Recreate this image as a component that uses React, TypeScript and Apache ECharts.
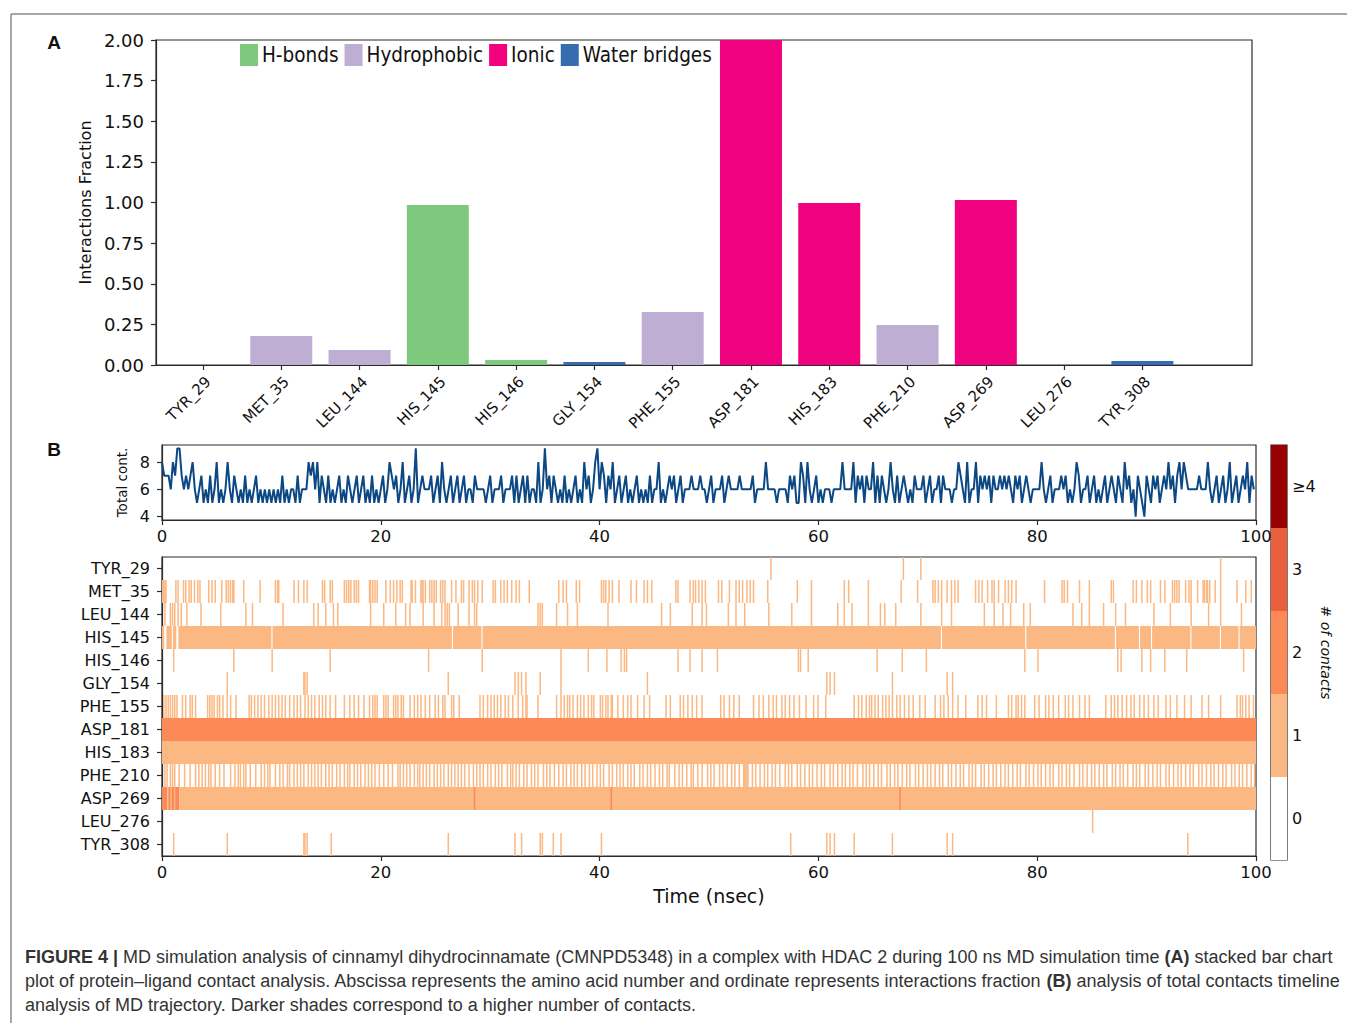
import React, { useEffect, useRef } from 'react';
import * as echarts from 'echarts';

// ---------- Panel A: interaction fractions ----------
const residues = ['TYR_29', 'MET_35', 'LEU_144', 'HIS_145', 'HIS_146', 'GLY_154', 'PHE_155', 'ASP_181', 'HIS_183', 'PHE_210', 'ASP_269', 'LEU_276', 'TYR_308'];
const hBonds = [0, 0, 0, 0.985, 0.031, 0, 0, 0, 0, 0, 0, 0, 0];
const hydrophobic = [0, 0.178, 0.092, 0, 0, 0, 0.326, 0, 0, 0.246, 0, 0, 0];
const ionic = [0, 0, 0, 0, 0, 0, 0, 2.0, 0.997, 0, 1.015, 0, 0];
const waterBridges = [0, 0, 0, 0, 0, 0.018, 0, 0, 0, 0, 0, 0, 0.025];
const interactionTypes = ['H-bonds', 'Hydrophobic', 'Ionic', 'Water bridges'];
const interactionColors = ['#7fc97f', '#beaed4', '#f0027f', '#386cb0'];

// ---------- Panel B top: total contacts timeline (one value every 0.2 ns) ----------
const contactTimeStep = 0.2;
const totalContacts = [
  8, 7, 7, 7, 6, 8, 7, 9, 9, 7, 6, 7, 6, 7, 8, 6, 5, 6, 7, 5, 6, 5, 7, 5, 6, 8, 5, 6, 5, 6, 8, 6, 5, 7, 6, 5, 6, 5, 7, 5, 6, 5, 6, 7, 5, 6, 5, 6, 5, 6,
  5, 6, 5, 6, 5, 7, 5, 6, 5, 6, 6, 5, 7, 5, 6, 6, 6, 8, 7, 8, 6, 8, 5, 7, 6, 5, 7, 5, 6, 5, 6, 7, 5, 6, 5, 7, 6, 5, 6, 7, 5, 6, 7, 5, 6, 5, 7, 5, 6, 5,
  6, 7, 5, 6, 8, 7, 6, 7, 5, 6, 8, 5, 6, 7, 5, 6, 9, 5, 6, 7, 6, 6, 6, 7, 5, 6, 7, 5, 8, 6, 5, 6, 7, 5, 6, 7, 5, 6, 7, 5, 6, 6, 5, 7, 6, 6, 6, 6, 5, 6,
  7, 5, 6, 6, 6, 7, 5, 6, 6, 6, 7, 5, 7, 5, 6, 7, 5, 7, 5, 6, 6, 5, 8, 5, 6, 9, 6, 7, 5, 7, 6, 5, 6, 5, 7, 5, 6, 5, 6, 7, 5, 6, 5, 8, 6, 7, 5, 6, 8, 9,
  6, 8, 7, 5, 7, 6, 8, 5, 6, 7, 5, 6, 7, 5, 6, 5, 6, 7, 5, 6, 5, 6, 5, 7, 5, 6, 6, 8, 5, 6, 5, 6, 7, 6, 7, 5, 6, 7, 5, 6, 6, 6, 7, 6, 6, 6, 7, 6, 6, 5,
  6, 7, 5, 6, 6, 6, 7, 5, 6, 7, 6, 6, 6, 6, 7, 6, 6, 6, 6, 6, 7, 5, 6, 6, 6, 6, 8, 6, 6, 6, 6, 5, 6, 6, 6, 6, 5, 7, 6, 7, 5, 5, 8, 7, 5, 8, 6, 5, 6, 7,
  5, 6, 5, 6, 6, 6, 5, 6, 6, 6, 6, 8, 6, 6, 6, 6, 8, 5, 7, 6, 7, 5, 7, 6, 6, 8, 5, 7, 5, 7, 6, 5, 6, 8, 6, 5, 7, 5, 6, 7, 6, 5, 6, 5, 7, 6, 6, 6, 7, 5,
  6, 7, 5, 6, 6, 7, 5, 7, 6, 6, 6, 5, 6, 6, 8, 7, 6, 5, 8, 5, 6, 6, 8, 5, 7, 6, 7, 6, 7, 5, 7, 6, 6, 7, 6, 7, 6, 7, 6, 5, 7, 6, 7, 5, 6, 7, 6, 5, 6, 6,
  6, 6, 8, 6, 5, 6, 7, 5, 6, 6, 6, 7, 6, 7, 5, 6, 5, 6, 8, 7, 5, 6, 6, 7, 5, 6, 7, 5, 6, 5, 6, 7, 5, 6, 7, 6, 5, 7, 6, 5, 8, 6, 7, 5, 6, 4, 7, 6, 5, 4,
  7, 6, 5, 7, 6, 7, 5, 6, 7, 6, 8, 6, 7, 5, 7, 8, 6, 8, 7, 6, 6, 6, 6, 6, 7, 6, 6, 6, 8, 6, 5, 6, 7, 5, 6, 7, 5, 6, 8, 5, 6, 7, 5, 6, 7, 6, 8, 5, 7, 6,
];
const timelineYTicks = [4, 6, 8];

// ---------- Panel B bottom: contacts per residue over time (ns) ----------
const contactColors = ['#ffffff', '#fbb882', '#fc8a56', '#e8603e', '#990000'];
const colorbarLevels = [0, 1, 2, 3, 4];
const colorbarLabels = ['0', '1', '2', '3', '≥4'];
const frameStep = 0.1;

const tyr29Times = [55.6, 67.7, 69.3, 96.7];
const met35Times = [0.0, 0.1, 0.2, 0.3, 1.2, 1.4, 1.9, 2.1, 2.4, 2.6, 2.9, 3.2, 3.4, 4.2, 4.5, 4.8, 5.4, 5.8, 6.0, 6.2, 6.4, 6.5, 7.4, 8.9, 10.3, 10.5, 10.6, 12.0, 12.4, 12.9, 13.2, 14.6, 14.8, 15.3, 15.5, 16.6, 16.8, 17.0, 17.2, 17.5, 17.7, 17.9, 18.9, 19.0, 19.2, 19.4, 19.6, 20.4, 20.8, 21.1, 21.4, 21.7, 21.9, 22.7, 22.8, 23.1, 23.6, 23.7, 23.8, 24.0, 24.4, 24.6, 24.8, 25.0, 25.4, 25.6, 25.8, 26.4, 26.8, 27.3, 27.5, 28.0, 28.3, 28.5, 28.8, 29.2, 30.2, 30.4, 30.9, 31.2, 31.5, 31.9, 32.3, 32.6, 33.5, 36.2, 36.6, 36.9, 37.8, 38.1, 40.1, 40.3, 40.5, 40.8, 41.1, 41.7, 42.8, 43.3, 44.0, 44.3, 44.7, 46.9, 47.1, 48.2, 48.5, 48.7, 49.0, 49.3, 49.6, 50.8, 51.1, 51.8, 52.4, 52.7, 53.0, 53.4, 53.7, 54.0, 55.3, 58.0, 59.3, 62.3, 62.7, 64.5, 67.5, 69.0, 70.4, 70.6, 70.9, 71.2, 71.7, 72.1, 72.4, 72.7, 74.3, 74.6, 74.9, 75.4, 75.8, 76.0, 76.4, 77.0, 77.3, 77.6, 78.0, 80.6, 82.2, 82.4, 82.7, 83.8, 84.7, 86.7, 86.9, 88.7, 89.0, 89.5, 90.0, 90.3, 91.2, 91.6, 92.3, 92.5, 92.7, 92.9, 93.5, 93.8, 94.0, 94.6, 95.1, 95.2, 95.4, 95.5, 95.7, 96.2, 96.7, 98.2, 99.0, 99.5];
const leu144Times = [0.2, 0.7, 0.9, 1.1, 1.4, 1.7, 2.2, 3.5, 5.3, 7.6, 8.2, 11.0, 13.8, 14.2, 14.9, 15.6, 16.0, 19.0, 20.2, 21.3, 22.2, 22.6, 23.8, 24.8, 25.5, 25.8, 26.0, 26.2, 27.0, 28.0, 28.5, 28.7, 34.3, 34.5, 34.7, 36.0, 37.0, 37.9, 40.7, 45.6, 46.4, 48.4, 49.3, 49.7, 51.7, 52.4, 53.2, 55.4, 57.5, 59.3, 61.7, 62.3, 63.0, 64.5, 65.6, 66.0, 67.0, 69.3, 71.2, 72.1, 75.1, 76.0, 76.8, 77.5, 78.7, 79.3, 83.2, 84.0, 84.7, 86.0, 87.1, 88.0, 90.6, 92.1, 94.0, 95.6, 96.7, 98.6];
const his146Times = [1.0, 6.5, 10.0, 15.3, 24.3, 29.2, 36.4, 38.9, 40.6, 41.9, 42.2, 42.4, 47.1, 48.2, 49.3, 50.7, 58.1, 58.3, 59.0, 65.3, 67.6, 69.8, 78.8, 80.0, 87.3, 87.6, 89.5, 90.3, 91.6, 93.6, 98.8];
const gly154Times = [5.9, 12.9, 13.0, 13.2, 26.1, 32.2, 32.5, 32.8, 33.2, 34.5, 36.4, 44.3, 60.7, 61.0, 61.4, 66.7, 71.7, 72.2];
const phe155Times = [0.1, 0.3, 0.5, 0.7, 0.9, 1.1, 1.3, 1.8, 2.1, 2.5, 2.7, 3.0, 4.1, 4.3, 4.5, 4.7, 5.0, 5.2, 5.5, 5.9, 6.2, 6.7, 7.9, 8.1, 8.4, 8.7, 9.0, 9.3, 9.7, 10.0, 10.3, 10.6, 10.9, 11.2, 11.6, 12.0, 12.3, 12.6, 13.0, 13.3, 13.6, 13.9, 14.3, 14.6, 14.9, 15.3, 15.8, 16.6, 17.1, 17.5, 17.9, 18.4, 18.9, 19.2, 19.4, 19.6, 20.2, 20.4, 20.6, 21.1, 21.3, 21.5, 21.8, 22.0, 22.6, 23.0, 23.3, 23.6, 24.0, 24.4, 24.9, 25.2, 25.6, 25.8, 26.4, 26.6, 27.1, 29.0, 29.3, 29.7, 30.0, 30.3, 30.6, 30.9, 31.3, 31.6, 32.0, 32.5, 32.9, 33.2, 33.3, 34.3, 36.0, 36.4, 36.7, 37.0, 37.2, 37.5, 37.9, 38.2, 38.5, 38.9, 39.2, 39.4, 40.0, 40.2, 40.5, 40.7, 41.0, 41.1, 41.6, 42.1, 42.5, 42.8, 43.4, 44.0, 44.5, 46.0, 46.4, 47.3, 47.6, 48.0, 48.4, 48.8, 49.3, 51.0, 51.3, 51.8, 52.2, 52.7, 54.0, 54.5, 54.9, 55.4, 55.8, 56.1, 56.6, 56.9, 57.3, 57.7, 58.2, 58.8, 59.5, 59.9, 60.6, 63.2, 63.6, 63.9, 64.3, 64.6, 64.8, 65.1, 65.4, 65.8, 66.1, 66.4, 66.7, 67.1, 67.4, 67.8, 68.2, 68.6, 69.2, 69.7, 70.6, 71.1, 71.4, 71.8, 72.2, 72.7, 73.4, 74.5, 74.9, 75.3, 76.2, 77.3, 77.6, 78.0, 78.2, 78.5, 78.8, 79.7, 80.1, 80.7, 81.0, 81.4, 81.9, 82.5, 82.8, 83.2, 83.8, 84.3, 84.7, 86.2, 86.7, 87.0, 87.3, 87.7, 88.1, 88.5, 88.8, 89.3, 89.7, 90.1, 90.6, 91.0, 91.7, 92.1, 92.7, 93.4, 94.0, 95.0, 95.6, 96.7, 98.2, 98.5, 98.7, 99.0, 99.3, 99.7];
const phe210Times = [0.2, 0.4, 0.7, 0.9, 1.1, 1.5, 2.0, 2.5, 3.0, 3.3, 3.6, 3.9, 4.2, 4.4, 4.8, 5.2, 5.6, 6.2, 6.6, 6.9, 7.1, 7.4, 7.6, 8.0, 8.5, 9.0, 9.3, 9.6, 9.8, 10.3, 10.7, 11.0, 11.4, 11.6, 12.0, 12.3, 12.6, 12.9, 13.3, 13.6, 13.9, 14.2, 14.5, 14.9, 15.2, 15.5, 15.9, 16.2, 16.6, 16.9, 17.1, 17.5, 17.8, 18.1, 18.5, 18.8, 19.1, 19.4, 19.8, 20.2, 20.6, 21.0, 21.5, 21.7, 22.0, 22.3, 22.6, 23.0, 23.3, 23.5, 23.8, 24.1, 24.4, 24.8, 25.1, 25.4, 25.7, 26.1, 26.4, 26.7, 27.0, 27.3, 27.6, 28.0, 28.4, 28.7, 29.0, 29.3, 29.7, 30.0, 30.4, 30.7, 31.0, 31.5, 31.8, 32.0, 32.3, 32.6, 33.0, 33.3, 33.7, 34.0, 34.3, 34.8, 35.1, 35.4, 35.8, 36.2, 36.6, 36.9, 37.3, 37.6, 37.9, 38.3, 38.6, 39.0, 39.3, 39.7, 40.0, 40.3, 40.8, 41.1, 41.5, 41.8, 42.1, 42.5, 42.8, 43.1, 43.6, 43.9, 44.3, 44.6, 45.0, 45.4, 45.7, 46.1, 46.3, 46.8, 47.2, 47.5, 47.9, 48.3, 48.5, 48.9, 49.3, 49.8, 50.1, 50.4, 50.9, 51.2, 51.6, 52.0, 52.3, 52.7, 53.1, 53.2, 53.3, 53.4, 53.5, 53.9, 54.2, 54.6, 55.0, 55.3, 55.7, 56.0, 56.4, 56.9, 57.2, 57.5, 58.0, 58.3, 58.7, 59.1, 59.4, 59.8, 60.2, 60.5, 61.0, 61.3, 61.7, 62.1, 62.4, 62.8, 63.1, 63.5, 64.0, 64.3, 64.6, 65.0, 65.4, 65.7, 66.2, 66.5, 66.9, 67.2, 67.6, 68.0, 68.3, 68.8, 69.1, 69.5, 69.9, 70.2, 70.6, 71.0, 71.3, 71.8, 72.1, 72.5, 72.9, 73.2, 73.7, 74.0, 74.3, 74.8, 75.1, 75.5, 75.9, 76.2, 76.6, 77.0, 77.3, 77.7, 78.1, 78.4, 78.9, 79.2, 79.6, 80.0, 80.3, 80.7, 81.1, 81.4, 81.9, 82.2, 82.6, 82.9, 83.3, 83.8, 84.1, 84.5, 84.9, 85.2, 85.6, 86.0, 86.3, 86.8, 87.1, 87.5, 87.8, 88.2, 88.7, 89.0, 89.3, 89.8, 90.1, 90.5, 90.9, 91.2, 91.7, 92.0, 92.4, 92.8, 93.1, 93.5, 93.9, 94.2, 94.7, 95.0, 95.4, 95.8, 96.1, 96.5, 96.9, 97.2, 97.7, 98.0, 98.4, 98.7, 99.1, 99.5, 99.8];
const leu276Times = [85.0];
const tyr308Times = [1.0, 5.9, 12.9, 13.0, 13.2, 15.4, 26.1, 32.2, 32.8, 34.5, 34.7, 35.7, 36.4, 40.1, 57.4, 60.7, 61.0, 61.4, 63.2, 66.7, 71.7, 72.2, 93.7];
// continuous rows: [start, end, count]
const his145Segments = [[0, 0.2, 1], [0.4, 0.9, 1], [1.0, 1.3, 1], [1.5, 10.0, 1], [10.1, 26.5, 1], [26.6, 29.2, 1], [29.3, 71.2, 1], [71.3, 78.9, 1], [79.0, 87.1, 1], [87.2, 89.3, 1], [89.4, 90.4, 1], [90.5, 94.0, 1], [94.1, 96.7, 1], [96.8, 98.4, 1], [98.5, 100, 1]];
const asp181Segments = [[0, 100, 2]];
const his183Segments = [[0, 100, 1]];
const asp269Segments = [[0, 0.5, 2], [0.5, 0.6, 1], [0.6, 0.8, 2], [0.8, 0.9, 1], [0.9, 1.1, 2], [1.1, 1.2, 1], [1.2, 1.6, 2], [1.6, 100, 1], [28.5, 28.6, 2], [41.0, 41.1, 2], [67.4, 67.5, 2]];

const sparseRows: [string, number[]][] = [
  ['TYR_29', tyr29Times], ['MET_35', met35Times], ['LEU_144', leu144Times], ['HIS_146', his146Times],
  ['GLY_154', gly154Times], ['PHE_155', phe155Times], ['PHE_210', phe210Times], ['LEU_276', leu276Times], ['TYR_308', tyr308Times],
];
const segmentRows: [string, number[][]][] = [
  ['HIS_145', his145Segments], ['ASP_181', asp181Segments], ['HIS_183', his183Segments], ['ASP_269', asp269Segments],
];

const caption1 = '{b|FIGURE 4 |} MD simulation analysis of cinnamyl dihydrocinnamate (CMNPD5348) in a complex with HDAC 2 during 100 ns MD simulation time {b|(A)} stacked bar chart';
const caption2 = 'plot of protein–ligand contact analysis. Abscissa represents the amino acid number and ordinate represents interactions fraction {b|(B)} analysis of total contacts timeline';
const caption3 = 'analysis of MD trajectory. Darker shades correspond to a higher number of contacts.';

const FONT = '"DejaVu Sans", sans-serif';
const CAPFONT = '"Liberation Sans", Arial, sans-serif';
const AX = '#2b2b2b';

export default function App() {
  const ref = useRef<HTMLDivElement>(null);
  useEffect(() => {
    if (!ref.current) return;
    const chart = echarts.init(ref.current, undefined, { renderer: 'svg' });

    const heatData: number[][] = [];
    segmentRows.forEach(([name, segs]) => {
      const r = residues.indexOf(name);
      segs.forEach((s) => heatData.push([s[0], s[1], r, s[2]]));
    });
    sparseRows.forEach(([name, times]) => {
      const r = residues.indexOf(name);
      times.forEach((t) => heatData.push([t, t + frameStep, r, 1]));
    });

    const barSeries = [hBonds, hydrophobic, ionic, waterBridges].map((vals, k) => ({
      name: interactionTypes[k],
      type: 'bar',
      xAxisIndex: 0,
      yAxisIndex: 0,
      stack: 'total',
      barWidth: 62,
      itemStyle: { color: interactionColors[k] },
      data: vals.map((v, i) => [i, v]),
    }));

    const tickStyle = { show: true, length: 5, lineStyle: { color: AX, width: 1.2 } };
    const lineStyle = { show: true, onZero: false, lineStyle: { color: AX, width: 1.2 } };
    const labelBase = { color: '#111', fontFamily: FONT, fontSize: 16 };

    chart.setOption({
      animation: false,
      backgroundColor: '#ffffff',
      legend: {
        data: interactionTypes,
        left: 240,
        top: 44,
        padding: 0,
        itemWidth: 18,
        itemHeight: 22,
        itemGap: 6,
        icon: 'rect',
        textStyle: { fontFamily: '"DejaVu Sans Condensed", "Liberation Sans Narrow", "DejaVu Sans"', fontSize: 20.5, color: '#111', padding: [0, 0, 0, -1] },
      },
      grid: [
        { left: 156, top: 40, width: 1096, height: 325, show: true, borderColor: AX, borderWidth: 1.2 },
        { left: 162, top: 445, width: 1094, height: 75, show: true, borderColor: AX, borderWidth: 1.2 },
        { left: 162, top: 557, width: 1094, height: 299, show: true, borderColor: AX, borderWidth: 1.2 },
        { left: 1271, top: 445, width: 16, height: 415, show: true, borderColor: '#222', borderWidth: 1.2 },
      ],
      xAxis: [
        {
          type: 'value', gridIndex: 0, min: -0.6, max: 13.4,
          splitLine: { show: false }, axisLine: lineStyle,
          axisTick: { ...tickStyle, customValues: residues.map((_, i) => i) },
          axisLabel: { ...labelBase, fontSize: 15, rotate: 45, margin: 9, verticalAlign: 'top', customValues: residues.map((_, i) => i), formatter: (v: number) => residues[Math.round(v)] ?? '' },
        },
        {
          type: 'value', gridIndex: 1, min: 0, max: 100, interval: 20,
          splitLine: { show: false }, axisLine: lineStyle, axisTick: tickStyle,
          axisLabel: { ...labelBase, fontSize: 16.5, margin: 8 },
        },
        {
          type: 'value', gridIndex: 2, min: 0, max: 100, interval: 20,
          splitLine: { show: false }, axisLine: lineStyle, axisTick: tickStyle,
          axisLabel: { ...labelBase, fontSize: 16.5, margin: 8 },
          name: 'Time (nsec)', nameLocation: 'middle', nameGap: 30,
          nameTextStyle: { fontFamily: FONT, fontSize: 19, color: '#111' },
        },
        { type: 'value', gridIndex: 3, min: 0, max: 1, show: false },
      ],
      yAxis: [
        {
          type: 'value', gridIndex: 0, min: 0, max: 2, interval: 0.25,
          splitLine: { show: false }, axisLine: lineStyle, axisTick: tickStyle,
          axisLabel: { ...labelBase, fontSize: 18, margin: 12, formatter: (v: number) => v.toFixed(2) },
          name: 'Interactions Fraction', nameLocation: 'middle', nameGap: 62,
          nameTextStyle: { fontFamily: FONT, fontSize: 16, color: '#111' },
        },
        {
          type: 'value', gridIndex: 1, min: 3.75, max: 9.25,
          splitLine: { show: false }, axisLine: lineStyle,
          axisTick: { ...tickStyle, customValues: timelineYTicks },
          axisLabel: { ...labelBase, margin: 12, customValues: timelineYTicks },
          name: 'Total cont.', nameLocation: 'middle', nameGap: 28,
          nameTextStyle: { fontFamily: FONT, fontSize: 13.5, color: '#111' },
        },
        {
          type: 'category', gridIndex: 2, data: residues, inverse: true,
          axisLine: lineStyle, axisTick: { ...tickStyle, alignWithLabel: true },
          axisLabel: { ...labelBase, fontSize: 16, margin: 12 },
        },
        {
          type: 'value', gridIndex: 3, min: -0.5, max: 4.5, position: 'right',
          splitLine: { show: false }, axisLine: { show: false }, axisTick: { show: false },
          axisLabel: { ...labelBase, fontSize: 16, margin: 5, customValues: colorbarLevels, formatter: (v: number) => colorbarLabels[Math.round(v)] ?? '' },
          name: '# of contacts', nameLocation: 'middle', nameGap: 21, nameRotate: -90,
          nameTextStyle: { fontFamily: FONT, fontSize: 14, fontStyle: 'italic', color: '#111' },
        },
      ],
      series: [
        ...barSeries,
        {
          type: 'line', xAxisIndex: 1, yAxisIndex: 1, showSymbol: false, symbol: 'none',
          lineStyle: { color: '#0b4884', width: 2 },
          data: totalContacts.map((v, i) => [+(i * contactTimeStep).toFixed(1), v]),
        },
        {
          type: 'custom', xAxisIndex: 2, yAxisIndex: 2,
          encode: { x: [0, 1], y: 2 },
          renderItem: (params: any, api: any) => {
            const s = api.value(0), e = api.value(1), r = api.value(2), c = api.value(3);
            const p0 = api.coord([s, r]);
            const p1 = api.coord([e, r]);
            const h = api.size([0, 1])[1];
            return {
              type: 'rect',
              shape: { x: p0[0], y: p0[1] - h / 2, width: Math.max(p1[0] - p0[0], 1.5), height: h },
              style: { fill: contactColors[c] },
            };
          },
          data: heatData,
        },
        {
          type: 'custom', xAxisIndex: 3, yAxisIndex: 3,
          encode: { x: 0, y: 1 },
          renderItem: (params: any, api: any) => {
            const lvl = api.value(1);
            const p0 = api.coord([0, lvl + 0.5]);
            const p1 = api.coord([1, lvl - 0.5]);
            return {
              type: 'rect',
              shape: { x: p0[0], y: p0[1], width: p1[0] - p0[0], height: p1[1] - p0[1] },
              style: { fill: contactColors[lvl] },
            };
          },
          data: colorbarLevels.map((l) => [0, l]),
        },
      ],
      graphic: [
        { type: 'line', shape: { x1: 11, y1: 14, x2: 1347, y2: 14 }, style: { stroke: '#8a8a8a', lineWidth: 1.5 } },
        { type: 'line', shape: { x1: 11, y1: 14, x2: 11, y2: 1023 }, style: { stroke: '#8a8a8a', lineWidth: 1.5 } },
        { type: 'text', x: 54, y: 42, style: { text: 'A', align: 'center', verticalAlign: 'middle', fill: '#111', font: 'bold 19px "Liberation Sans", Arial, sans-serif' } },
        { type: 'text', x: 54, y: 449, style: { text: 'B', align: 'center', verticalAlign: 'middle', fill: '#111', font: 'bold 19px "Liberation Sans", Arial, sans-serif' } },
        ...[caption1, caption2, caption3].map((t, i) => ({
          type: 'text', x: 25, y: 957 + i * 24,
          style: {
            text: t, verticalAlign: 'middle', fill: '#333', fontSize: 18, fontFamily: CAPFONT,
            rich: { b: { fontWeight: 'bold', fontSize: 18, fontFamily: CAPFONT, fill: '#333' } },
          },
        })),
      ],
    });
    return () => chart.dispose();
  }, []);
  return <div ref={ref} style={{ position: 'absolute', left: 0, top: 0, width: 1347, height: 1023, background: '#fff' }} />;
}
